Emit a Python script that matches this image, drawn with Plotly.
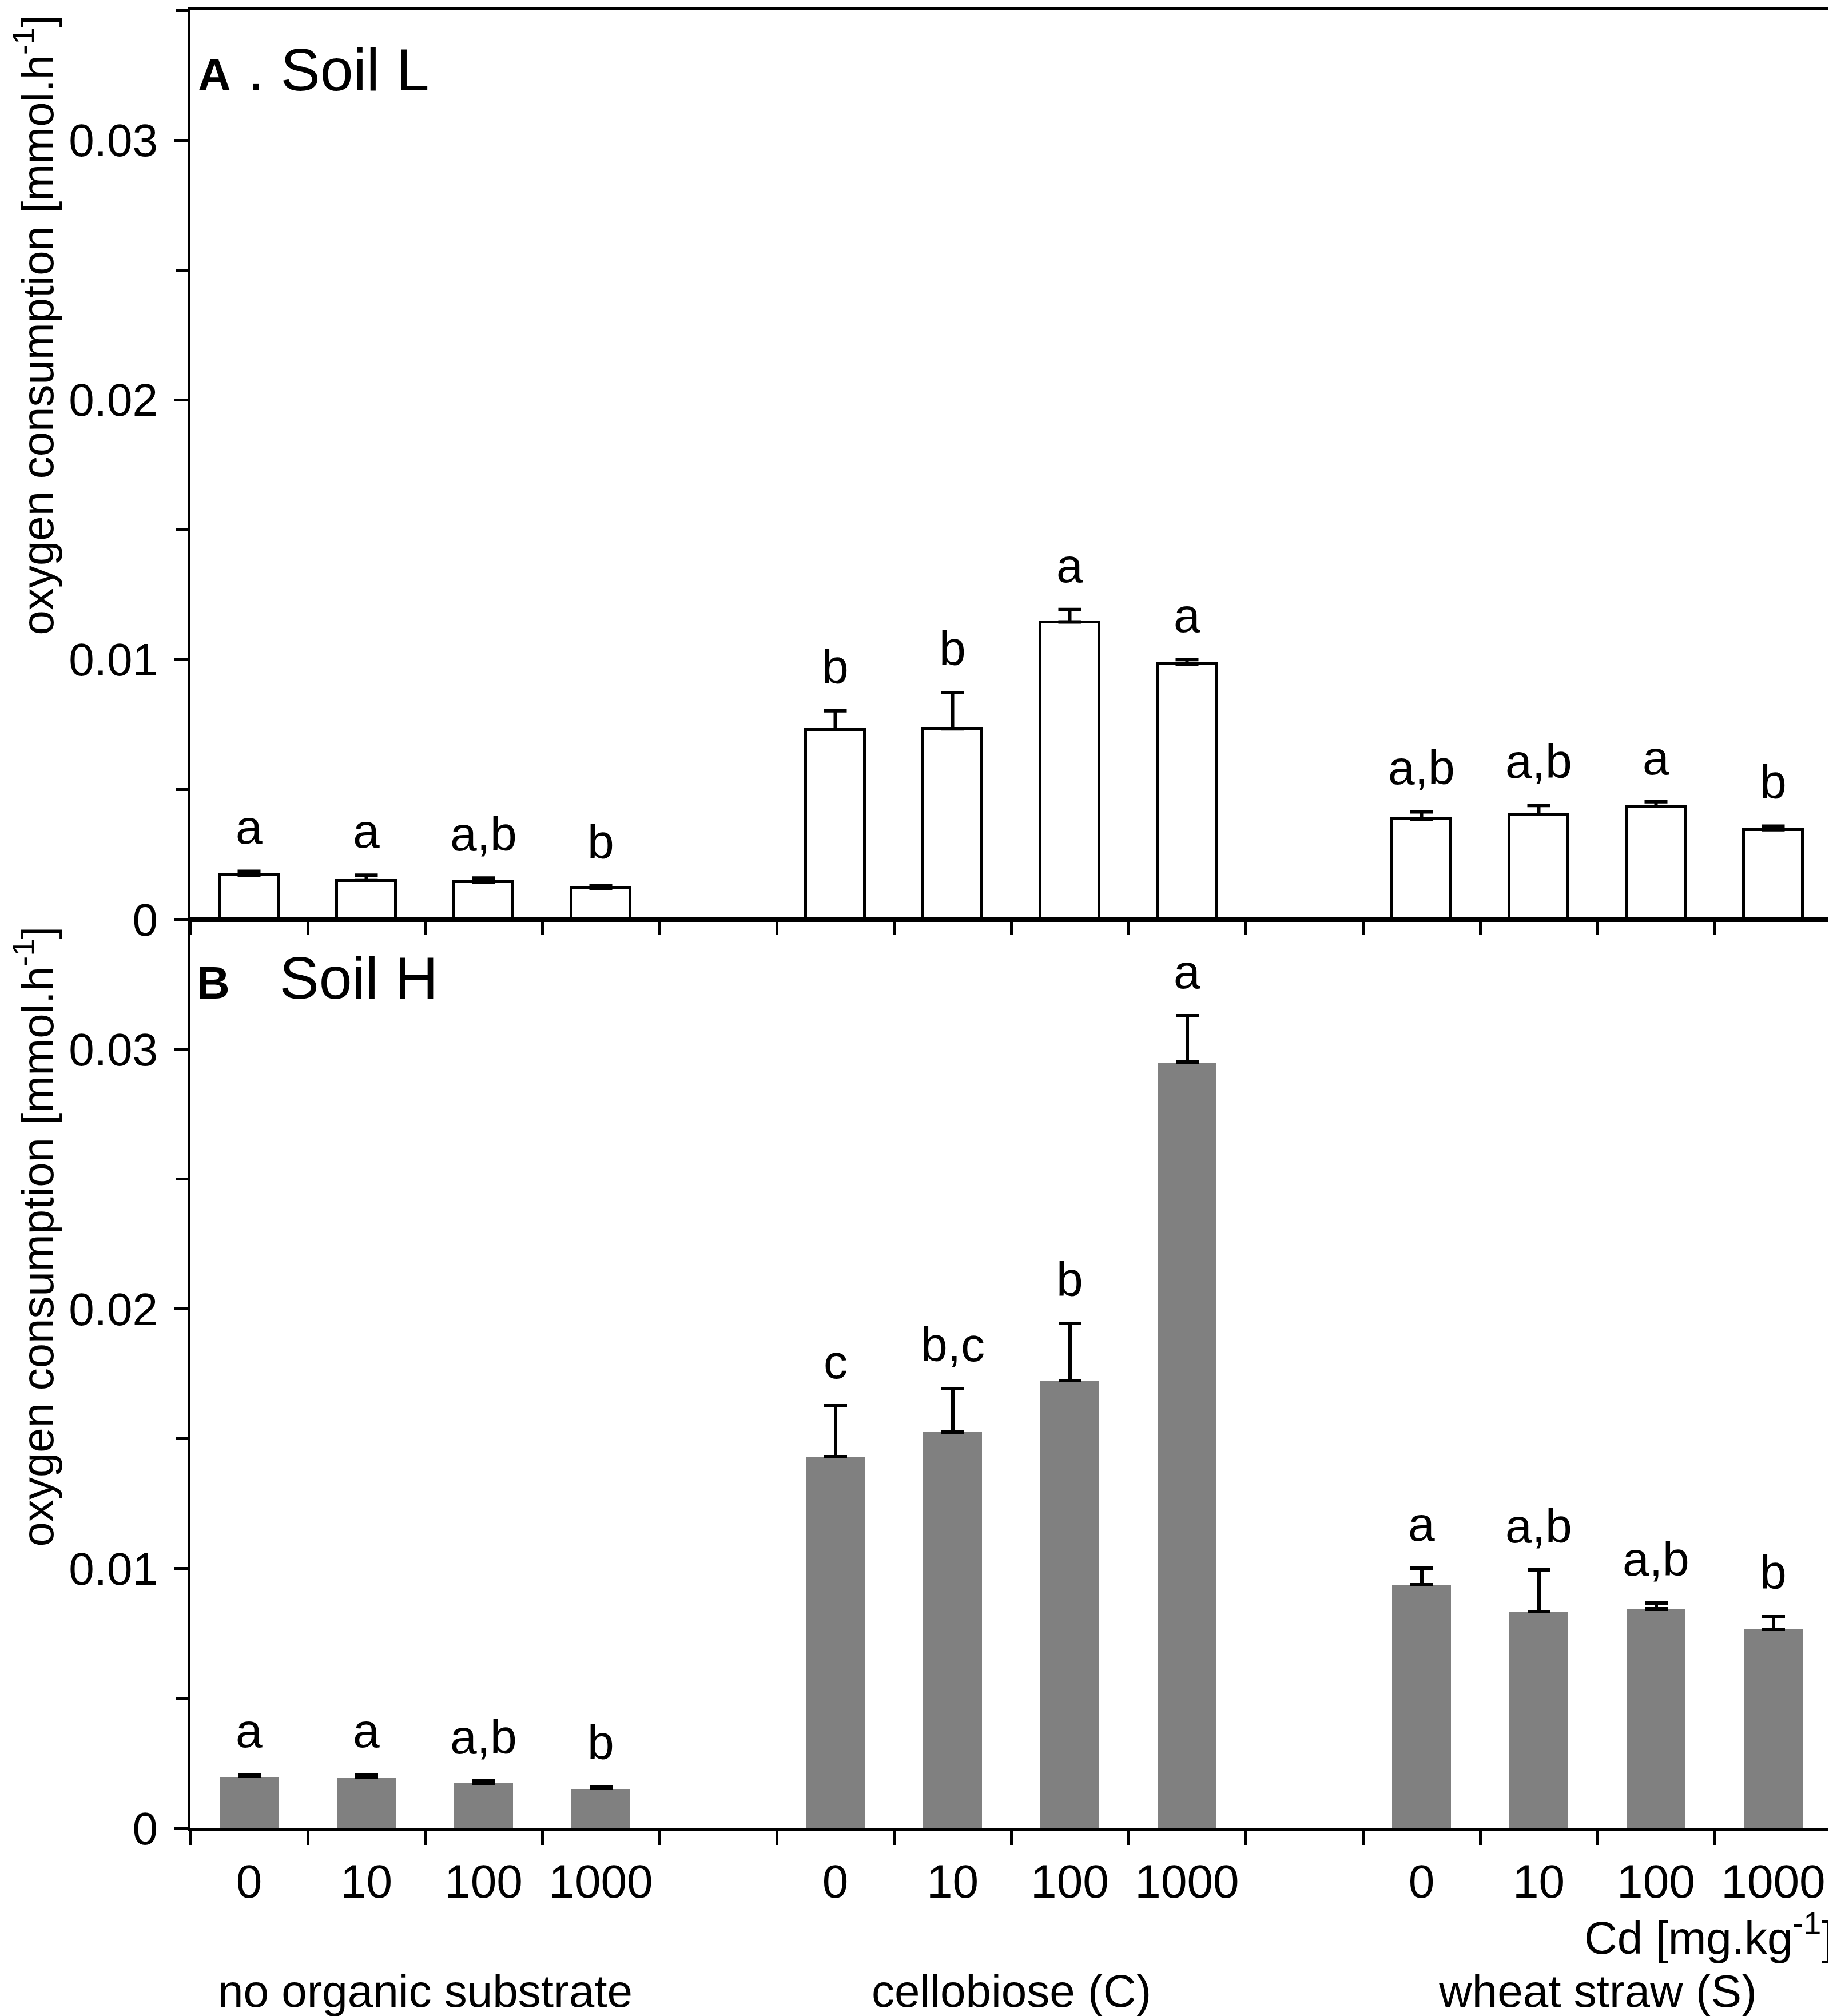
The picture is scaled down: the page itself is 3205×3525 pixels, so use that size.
import plotly.graph_objects as go

# ---------------- data ----------------
cd_labels = ["0", "10", "100", "1000"]
groups = ["no organic substrate", "cellobiose (C)", "wheat straw (S)"]

soilL_mean = [0.00170, 0.00149, 0.00144, 0.00119,
              0.00730, 0.00734, 0.01145, 0.00983,
              0.00386, 0.00404, 0.00435, 0.00345]
soilL_err = [0.00015, 0.00021, 0.00015, 0.00010,
             0.00073, 0.00139, 0.00048, 0.00017,
             0.00028, 0.00035, 0.00018, 0.00014]
soilL_letters = ["a", "a", "a,b", "b",
                 "b", "b", "a", "a",
                 "a,b", "a,b", "a", "b"]

soilH_mean = [0.00200, 0.00196, 0.00175, 0.00154,
              0.01432, 0.01527, 0.01724, 0.02950,
              0.00937, 0.00835, 0.00845, 0.00767]
soilH_err = [0.00008, 0.00010, 0.00008, 0.00006,
             0.00196, 0.00167, 0.00221, 0.00178,
             0.00064, 0.00160, 0.00022, 0.00049]
soilH_letters = ["a", "a", "a,b", "b",
                 "c", "b,c", "b", "a",
                 "a", "a,b", "a,b", "b"]

y_title = "oxygen consumption [mmol.h<sup>-1</sup>]"
x_unit = "Cd [mg.kg<sup>-1</sup>]"

# ---------------- layout helpers ----------------
FONT = "Liberation Sans, Arial, Helvetica, sans-serif"
W, H = 3205, 3525
ML, MR, MT, MB = 325, 5, 10, 336
PH = H - MT - MB
PW = W - ML - MR

n_per = len(cd_labels)
slot = n_per + 1
xpos = [g * slot + i + 0.5 for g in range(len(groups)) for i in range(n_per)]
xticktext = [cd_labels[i] for g in range(len(groups)) for i in range(n_per)]
group_centers = [g * slot + n_per / 2 for g in range(len(groups))]
x_range = [0, len(groups) * slot - 1]

fig = go.Figure()

fig.add_trace(go.Bar(
    x=xpos, y=soilL_mean, width=0.5,
    marker=dict(color="white", line=dict(color="black", width=5)),
    error_y=dict(type="data", array=soilL_err, arrayminus=[0] * len(soilL_err),
                 symmetric=False, color="black", thickness=6, width=20),
    xaxis="x", yaxis="y", showlegend=False,
))
fig.add_trace(go.Bar(
    x=xpos, y=soilH_mean, width=0.5,
    marker=dict(color="#808080", line=dict(width=0)),
    error_y=dict(type="data", array=soilH_err, arrayminus=[0] * len(soilH_err),
                 symmetric=False, color="black", thickness=6, width=20),
    xaxis="x2", yaxis="y2", showlegend=False,
))

axis_common = dict(showline=True, linecolor="black", linewidth=5, mirror=True,
                   showgrid=False, zeroline=False)

fig.update_layout(
    width=W, height=H,
    margin=dict(l=ML, r=MR, t=MT, b=MB, pad=0),
    paper_bgcolor="white", plot_bgcolor="white",
    font=dict(family=FONT, color="black", size=80),
    bargap=0,
    xaxis=dict(domain=[0, 1], anchor="y", range=x_range,
               tickmode="array", tickvals=xpos, ticktext=xticktext,
               showticklabels=False, ticks="outside", ticklen=0, tickwidth=0,
               minor=dict(tickmode="linear", tick0=0, dtick=1, ticks="outside",
                          ticklen=22, tickwidth=5, tickcolor="black"),
               **axis_common),
    yaxis=dict(domain=[0.5, 1], anchor="x", range=[0, 0.035],
               tickmode="linear", tick0=0, dtick=0.01,
               ticks="outside", ticklen=24, tickwidth=5, tickcolor="black",
               tickfont=dict(size=80), ticklabelstandoff=12,
               minor=dict(tickmode="linear", tick0=0, dtick=0.005, ticks="outside",
                          ticklen=20, tickwidth=5, tickcolor="black"),
               **axis_common),
    xaxis2=dict(domain=[0, 1], anchor="y2", range=x_range,
                tickmode="array", tickvals=xpos, ticktext=xticktext,
                ticks="outside", ticklen=0, tickwidth=0,
                tickfont=dict(size=82), ticklabelstandoff=18,
                minor=dict(tickmode="linear", tick0=0, dtick=1, ticks="outside",
                           ticklen=24, tickwidth=5, tickcolor="black"),
                **axis_common),
    yaxis2=dict(domain=[0, 0.5], anchor="x2", range=[0, 0.035],
                tickmode="linear", tick0=0, dtick=0.01,
                ticks="outside", ticklen=24, tickwidth=5, tickcolor="black",
                tickfont=dict(size=80), ticklabelstandoff=12,
                minor=dict(tickmode="linear", tick0=0, dtick=0.005, ticks="outside",
                           ticklen=20, tickwidth=5, tickcolor="black"),
                **axis_common),
)

ann = []
# significance letters
for xs, m, e, lab, xr, yr in [(xpos, soilL_mean, soilL_err, soilL_letters, "x", "y"),
                              (xpos, soilH_mean, soilH_err, soilH_letters, "x2", "y2")]:
    for xv, mv, ev, t in zip(xs, m, e, lab):
        ann.append(dict(x=xv, y=mv + ev, xref=xr, yref=yr, text=t, showarrow=False,
                        xanchor="center", yanchor="bottom", yshift=28,
                        font=dict(size=84, family=FONT, color="black")))

# panel labels
ann.append(dict(x=(336 - ML) / PW, y=1 - (174 - MT) / PH, xref="paper", yref="paper",
                text="<b><span style='font-size:80px'>A</span></b> . Soil L", showarrow=False,
                xanchor="left", yanchor="bottom", font=dict(size=104, family=FONT, color="black")))
ann.append(dict(x=(334 - ML) / PW, y=1 - (1762 - MT) / PH, xref="paper", yref="paper",
                text="<b><span style='font-size:80px'>B</span></b>\u00a0\u00a0\u00a0Soil H", showarrow=False,
                xanchor="left", yanchor="bottom", font=dict(size=104, family=FONT, color="black")))

# y titles
for cy in [560, 2154]:
    ann.append(dict(x=(52 - ML) / PW, y=1 - (cy - MT) / PH, xref="paper", yref="paper",
                    text=y_title, showarrow=False, textangle=-90,
                    xanchor="center", yanchor="middle", font=dict(size=78, family=FONT, color="black")))

# x unit label
ann.append(dict(x=1, y=-(3427 - (H - MB)) / PH, xref="paper", yref="paper", xshift=6,
                text=x_unit, showarrow=False, xanchor="right", yanchor="bottom",
                font=dict(size=80, family=FONT, color="black")))

# group labels
for gc, g in zip(group_centers, groups):
    ann.append(dict(x=gc, y=-(3520 - (H - MB)) / PH, xref="x2", yref="paper",
                    text=g, showarrow=False, xanchor="center", yanchor="bottom",
                    font=dict(size=80, family=FONT, color="black")))

fig.update_layout(annotations=ann)

fig.write_html("out.html")
